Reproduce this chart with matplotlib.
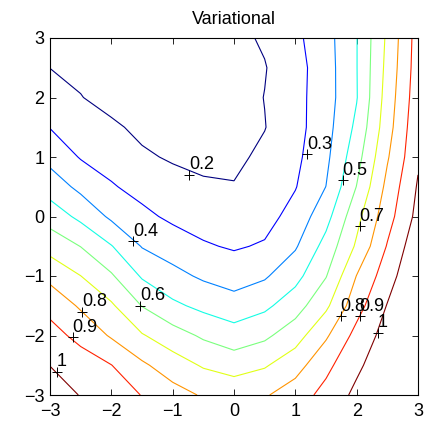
import numpy as np
import matplotlib
matplotlib.use("Agg")
import matplotlib.pyplot as plt

plt.rcParams['font.family'] = ['Liberation Sans', 'DejaVu Sans']

# grid (rows top y=3 -> bottom y=-3, cols x=-3..3)
xs = [-3, -2.5, -2, -1.5, -1, -0.5, 0, 0.5, 1, 1.5, 2, 2.5, 3]
ys = [3, 2.5, 2, 1.5, 1, 0.5, 0, -0.5, -1, -1.5, -2, -2.5, -3]
z_rows = [
    [0.180, 0.165, 0.155, 0.150, 0.150, 0.160, 0.175, 0.212, 0.278, 0.362, 0.497, 0.718, 0.945],
    [0.199, 0.180, 0.160, 0.150, 0.145, 0.150, 0.165, 0.195, 0.263, 0.356, 0.497, 0.729, 0.950],
    [0.248, 0.203, 0.170, 0.150, 0.145, 0.150, 0.160, 0.202, 0.267, 0.356, 0.495, 0.743, 0.960],
    [0.297, 0.257, 0.215, 0.180, 0.160, 0.160, 0.170, 0.197, 0.265, 0.3625, 0.522, 0.759, 0.975],
    [0.369, 0.293, 0.260, 0.213, 0.190, 0.180, 0.180, 0.220, 0.277, 0.377, 0.561, 0.790, 0.985],
    [0.455, 0.375, 0.309, 0.267, 0.234, 0.211, 0.205, 0.240, 0.295, 0.401, 0.603, 0.828, 1.010],
    [0.557, 0.476, 0.382, 0.324, 0.280, 0.260, 0.245, 0.265, 0.336, 0.464, 0.670, 0.860, 1.030],
    [0.663, 0.598, 0.505, 0.395, 0.354, 0.310, 0.290, 0.310, 0.389, 0.536, 0.715, 0.907, 1.070],
    [0.773, 0.701, 0.612, 0.489, 0.429, 0.385, 0.357, 0.388, 0.468, 0.595, 0.803, 0.955, 1.100],
    [0.868, 0.787, 0.714, 0.597, 0.520, 0.475, 0.441, 0.479, 0.556, 0.680, 0.861, 1.005, 1.120],
    [0.938, 0.870, 0.789, 0.708, 0.644, 0.585, 0.544, 0.580, 0.657, 0.786, 0.932, 1.040, 1.130],
    [0.998, 0.951, 0.902, 0.817, 0.748, 0.690, 0.657, 0.690, 0.760, 0.874, 0.980, 1.070, 1.160],
    [1.060, 0.995, 0.950, 0.897, 0.839, 0.790, 0.770, 0.790, 0.851, 0.932, 1.024, 1.120, 1.220],
]
levels = [0.2, 0.3, 0.4, 0.5, 0.6, 0.7, 0.8, 0.9, 1.0]

# contour labels (MATLAB-style "+" with text)
label_text = ['0.2', '0.3', '0.4', '0.5', '0.6', '0.7', '0.8', '0.8', '0.9', '0.9', '1', '1']
label_x = [-0.73, 1.19, -1.64, 1.77, -1.53, 2.05, -2.48, 1.74, -2.63, 2.05, -2.89, 2.34]
label_y = [0.70, 1.05, -0.42, 0.61, -1.50, -0.16, -1.60, -1.68, -2.03, -1.68, -2.61, -1.95]

X, Y = np.meshgrid(xs, ys)
Z = np.array(z_rows)

fig = plt.figure(figsize=(4.33, 4.25), dpi=100)
ax = fig.add_axes([50/433, 1-395/425, 368/433, 357/425])
ax.contour(X, Y, Z, levels=levels, cmap='jet', vmin=0.2, vmax=1.0, linewidths=0.8)

ax.plot(label_x, label_y, '+', color='black', markersize=7, markeredgewidth=0.7)
for t, lx, ly in zip(label_text, label_x, label_y):
    ax.annotate(t, (lx, ly), xytext=(0, 1), textcoords='offset points',
                ha='left', va='bottom', fontsize=13)

ax.set_xlim(-3, 3)
ax.set_ylim(-3, 3)
ax.set_xticks(range(-3, 4))
ax.set_yticks(range(-3, 4))
ax.tick_params(direction='in', top=True, right=True, length=4, width=0.6,
               labelsize=13)
ax.tick_params(axis='x', pad=6)
ax.tick_params(axis='y', pad=4)
for s in ax.spines.values():
    s.set_linewidth(0.8)
ax.set_title('Variational', fontsize=13, pad=10)

fig.savefig('out.png', dpi=100)
